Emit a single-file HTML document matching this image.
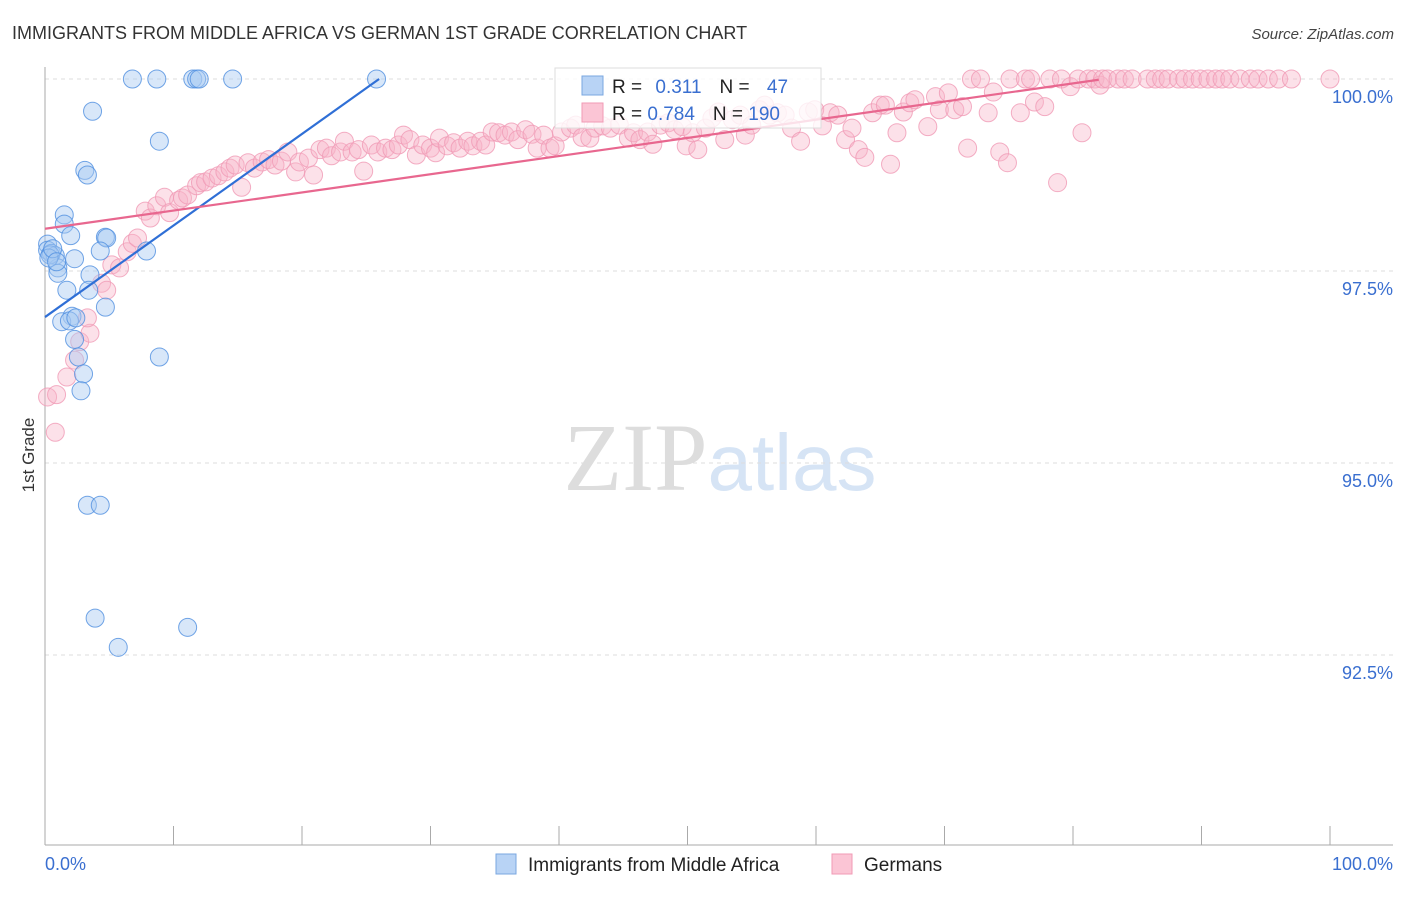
<!DOCTYPE html>
<html><head><meta charset="utf-8"><style>
body{margin:0;background:#fff;font-family:"Liberation Sans",sans-serif}
svg text{font-family:"Liberation Sans",sans-serif}
</style></head><body>
<svg id="c" width="1406" height="892" xmlns="http://www.w3.org/2000/svg">
<text x="12" y="39" font-size="18" fill="#333">IMMIGRANTS FROM MIDDLE AFRICA VS GERMAN 1ST GRADE CORRELATION CHART</text>
<text x="1394" y="39" font-size="15" fill="#444" text-anchor="end" font-style="italic">Source: ZipAtlas.com</text>
<text x="720" y="490" font-size="96" text-anchor="middle"><tspan fill="#ddd" font-family="Liberation Serif">ZIP</tspan><tspan fill="#d6e4f5" font-size="80">atlas</tspan></text>
<g id="grid"></g><g id="axes"></g><g id="pts"></g><g id="trend"></g>
<text transform="translate(34,455) rotate(-90)" font-size="17" fill="#333" text-anchor="middle">1st Grade</text>
<g>
<rect x="555" y="68" width="266" height="60" fill="#fff" fill-opacity="0.8" stroke="#ddd"/>
<rect x="582" y="76" width="21" height="19" fill="#b8d3f5" stroke="#7aa7e0"/>
<rect x="582" y="103" width="21" height="19" fill="#fbc5d5" stroke="#f09ab5"/>
<text x="612" y="93" font-size="19" fill="#222">R = <tspan fill="#3a6fd0" dx="8">0.311</tspan><tspan dx="18" fill="#222">N = </tspan><tspan dx="12" fill="#3a6fd0">47</tspan></text>
<text x="612" y="120" font-size="19" fill="#222">R = <tspan fill="#3a6fd0">0.784</tspan><tspan dx="18" fill="#222">N = </tspan><tspan fill="#3a6fd0">190</tspan></text>
</g>
<g>
<rect x="496" y="854" width="20" height="20" fill="#b8d3f5" stroke="#7aa7e0"/>
<text x="528" y="871" font-size="19" fill="#222">Immigrants from Middle Africa</text>
<rect x="832" y="854" width="20" height="20" fill="#fbc5d5" stroke="#f09ab5"/>
<text x="864" y="871" font-size="19" fill="#222">Germans</text>
</g>
</svg>
<script>
const yTicks=[100,97.5,95,92.5];
const yTickLabels=["100.0%","97.5%","95.0%","92.5%"];
const xTicks=[0,10,20,30,40,50,60,70,80,90,100];
const blueX=[6.8,8.7,11.5,11.8,12.0,14.6,25.8,3.7,8.9,3.1,3.3,1.5,1.5,2.0,4.7,4.8,0.2,0.2,0.5,0.8,4.3,7.9,2.3,1.0,1.0,3.5,1.7,3.4,4.7,2.1,1.3,1.9,2.4,2.3,2.6,8.9,3.0,2.8,3.3,4.3,3.9,11.1,5.7,0.4,0.3,0.6,0.9];
const blueY=[100,100,100,100,100,100,100,99.58,99.19,98.81,98.75,98.23,98.11,97.96,97.94,97.93,97.85,97.77,97.73,97.70,97.76,97.76,97.66,97.54,97.47,97.45,97.25,97.25,97.03,96.91,96.84,96.85,96.89,96.61,96.38,96.38,96.16,95.94,94.45,94.45,92.98,92.86,92.60,97.71,97.67,97.79,97.62];
const pinkX=[0.2,0.9,0.8,1.7,2.3,2.7,3.5,3.3,4.4,4.8,5.2,5.8,6.4,6.8,7.2,7.8,8.2,8.7,9.3,9.7,10.4,10.7,11.1,11.8,12.1,12.5,13.0,13.5,14.0,14.4,14.8,15.3,15.8,16.3,16.9,17.4,17.9,18.4,18.9,19.5,19.8,20.5,20.9,21.4,21.9,22.3,23.0,23.3,23.9,24.4,24.8,25.4,25.9,26.5,27.0,27.5,27.9,28.4,28.9,29.4,30.0,30.4,30.7,31.3,31.8,32.3,32.9,33.3,33.9,34.3,34.8,35.3,35.8,36.3,36.8,37.4,37.9,38.3,38.8,39.3,39.7,40.2,40.9,41.3,41.8,42.4,42.8,43.4,44.0,44.7,45.4,45.8,46.3,46.9,47.3,47.9,48.5,49.0,49.6,49.9,50.4,50.8,51.4,51.9,52.4,52.9,53.5,54.1,54.5,55.0,55.6,56.0,56.4,57.0,57.6,58.1,58.8,59.4,59.9,60.5,61.1,61.7,62.3,62.8,63.3,63.8,64.4,65.0,65.4,65.8,66.3,66.8,67.3,67.7,68.7,69.3,69.6,70.3,70.8,71.4,71.8,72.1,72.8,73.4,73.8,74.3,74.9,75.1,75.9,76.3,76.7,77.0,77.8,78.2,78.8,79.1,79.8,80.4,80.7,81.2,81.7,82.1,82.3,82.7,83.5,84.0,84.6,85.8,86.4,86.9,87.4,88.2,88.7,89.3,89.9,90.5,91.1,91.6,92.2,93.0,93.8,94.4,95.2,96.0,97.0,100.0];
const pinkY=[95.86,95.89,95.40,96.12,96.34,96.58,96.69,96.89,97.34,97.25,97.58,97.54,97.75,97.86,97.93,98.28,98.19,98.35,98.46,98.26,98.42,98.45,98.49,98.61,98.65,98.66,98.71,98.74,98.79,98.84,98.88,98.59,98.91,98.84,98.92,98.95,98.88,98.93,99.05,98.79,98.92,98.97,98.75,99.08,99.10,99.00,99.05,99.19,99.05,99.08,98.80,99.14,99.05,99.10,99.08,99.14,99.27,99.21,99.01,99.14,99.10,99.04,99.23,99.13,99.17,99.10,99.19,99.13,99.19,99.14,99.31,99.30,99.27,99.31,99.21,99.34,99.28,99.10,99.27,99.10,99.13,99.31,99.36,99.40,99.24,99.23,99.36,99.39,99.36,99.40,99.23,99.30,99.21,99.31,99.15,99.40,99.43,99.34,99.38,99.13,99.30,99.08,99.36,99.49,99.57,99.21,99.47,99.53,99.27,99.40,99.60,99.66,99.53,99.56,99.53,99.36,99.19,99.57,99.60,99.39,99.56,99.53,99.21,99.36,99.08,98.98,99.56,99.66,99.66,98.89,99.30,99.57,99.69,99.73,99.38,99.77,99.60,99.82,99.60,99.64,99.10,100,100,99.56,99.83,99.05,98.91,100,99.56,100,100,99.70,99.64,100,98.65,100,99.90,100,99.30,100,100,99.92,100,100,100,100,100,100,100,100,100,100,100,100,100,100,100,100,100,100,100,100,100,100,100,100,99.82];
const blueTrend=[0,96.9,26,100];
const pinkTrend=[0,98.05,82,99.99];
const NS="http://www.w3.org/2000/svg";
const X0=45,X1=1330,Y100=79,Y90=847;
const sx=v=>X0+(X1-X0)*v/100;
const sy=v=>Y100+(100-v)*(Y90-Y100)/10;
function mk(tag,attrs,parent){const e=document.createElementNS(NS,tag);for(const k in attrs)e.setAttribute(k,attrs[k]);parent.appendChild(e);return e;}
const grid=document.getElementById('grid'),axes=document.getElementById('axes'),pts=document.getElementById('pts'),trend=document.getElementById('trend');
yTicks.forEach((t,i)=>{
 const l=mk('line',{x1:45,x2:1393,y1:sy(t),y2:sy(t),stroke:'#ddd','stroke-dasharray':'4,4'},grid);
 
 
 const tx=mk('text',{x:1393,y:sy(t)+24,'font-size':18,fill:'#3a6fd0','text-anchor':'end'},axes);
 tx.textContent=yTickLabels[i];
 
 
});
const ya=mk('line',{x1:45,x2:45,y1:67,y2:845,stroke:'#aaa'},axes);


const xa=mk('line',{x1:45,x2:1393,y1:845,y2:845,stroke:'#aaa'},axes);


xTicks.forEach(t=>{
 const l=mk('line',{x1:sx(t),x2:sx(t),y1:826,y2:845,stroke:'#aaa'},axes);
 
 
});
[[0,'0.0%','start',45],[100,'100.0%','end',1393]].forEach(a=>{
 const tx=mk('text',{x:a[3],y:870,'font-size':18,fill:'#3a6fd0','text-anchor':a[2]},axes);
 tx.textContent=a[1];
 
 
});
pinkX.forEach((x,i)=>{
 const c=mk('circle',{cx:sx(x),cy:sy(pinkY[i]),r:9,fill:'#f8b4c8','fill-opacity':0.4,stroke:'#f09ab5','stroke-opacity':0.8},pts);
 
 
});
blueX.forEach((x,i)=>{
 const c=mk('circle',{cx:sx(x),cy:sy(blueY[i]),r:9,fill:'#a9c9f2','fill-opacity':0.45,stroke:'#4f8ee0','stroke-opacity':0.8},pts);
 
 
});
const bt=mk('line',{x1:sx(blueTrend[0]),y1:sy(blueTrend[1]),x2:sx(blueTrend[2]),y2:sy(blueTrend[3]),stroke:'#2f6fd6','stroke-width':2.2},trend);


const pt=mk('line',{x1:sx(pinkTrend[0]),y1:sy(pinkTrend[1]),x2:sx(pinkTrend[2]),y2:sy(pinkTrend[3]),stroke:'#e8678f','stroke-width':2.2},trend);


</script>
</body></html>
